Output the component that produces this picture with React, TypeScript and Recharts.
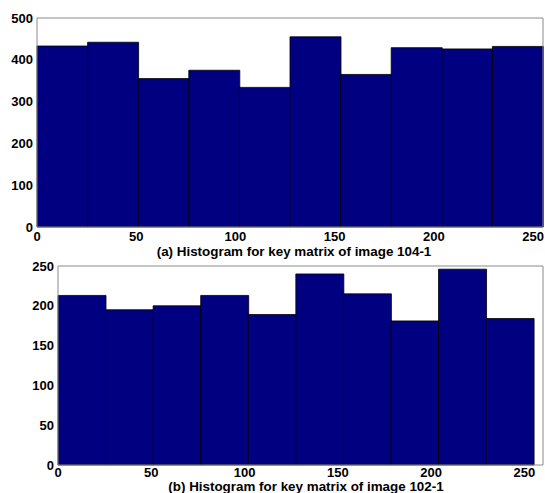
import React from 'react';
import { ComposedChart, Bar, XAxis, YAxis } from 'recharts';

// bin centres of the 10 histogram bins over 0..255
const binCenters = [12.75, 38.25, 63.75, 89.25, 114.75, 140.25, 165.75, 191.25, 216.75, 242.25];
const countsA = [433, 442, 355, 375, 334, 455, 365, 429, 426, 432];
const countsB = [213, 195, 200, 213, 189, 240, 215, 181, 246, 184];

const xTicks = [0, 50, 100, 150, 200, 250];
const yTicksA = [0, 100, 200, 300, 400, 500];
const yTicksB = [0, 50, 100, 150, 200, 250];

const titleA = '(a) Histogram for key matrix of image 104-1';
const titleB = '(b) Histogram for key matrix of image 102-1';

const FONT = '"Liberation Sans", Arial, sans-serif';
const BAR = '#000080';
const BOX = '#8a8a8a';
const tickStyle = { fontSize: 13, fontWeight: 'bold', fill: '#000', fontFamily: FONT };

function Histogram({ counts, xMax, yMax, yTicks, yWidth, height, xMargin }: {
  counts: number[]; xMax: number; yMax: number; yTicks: number[]; yWidth: number; height: number; xMargin: number;
}) {
  const data = binCenters.map((x, i) => ({ x, count: counts[i] }));
  return (
    <ComposedChart width={545} height={height} data={data} barCategoryGap={0} barGap={0}
      margin={{ top: 18, right: 2, bottom: 0, left: 0 }}>
      <XAxis xAxisId="b" dataKey="x" type="number" domain={[0, xMax]} ticks={xTicks} height={30}
        tick={tickStyle} tickSize={0} tickMargin={xMargin} axisLine={{ stroke: BOX }} interval={0} />
      <XAxis xAxisId="t" orientation="top" dataKey="x" type="number" domain={[0, xMax]} ticks={xTicks}
        mirror tick={false} tickSize={5} tickLine={{ stroke: '#666' }} axisLine={{ stroke: BOX }} />
      <YAxis yAxisId="l" type="number" domain={[0, yMax]} ticks={yTicks} width={yWidth}
        tick={tickStyle} tickSize={0} tickMargin={4} axisLine={{ stroke: BOX }} interval={0} />
      <YAxis yAxisId="r" orientation="right" type="number" domain={[0, yMax]} ticks={yTicks}
        mirror tick={false} tickSize={5} tickLine={{ stroke: '#666' }} axisLine={{ stroke: BOX }} />
      <Bar xAxisId="b" yAxisId="l" dataKey="count" fill={BAR} stroke="#000" strokeWidth={0.8}
        isAnimationActive={false} />
    </ComposedChart>
  );
}

const titleStyle: React.CSSProperties = {
  position: 'absolute', fontFamily: FONT, fontWeight: 'bold', fontSize: 13.4, lineHeight: 1,
  whiteSpace: 'nowrap', transform: 'translate(-50%, -50%)', color: '#000',
};

export default function App() {
  return (
    <div style={{ position: 'absolute', left: 0, top: 0, width: 545, height: 493, overflow: 'hidden', background: '#fff' }}>
      <div style={{ position: 'absolute', left: 0, top: 0 }}>
        <Histogram counts={countsA} xMax={255} yMax={500} yTicks={yTicksA} yWidth={37} height={257} xMargin={5} />
      </div>
      <div style={{ position: 'absolute', left: 0, top: 248 }}>
        <Histogram counts={countsB} xMax={260} yMax={250} yTicks={yTicksB} yWidth={58} height={247} xMargin={3} />
      </div>
      <div style={{ ...titleStyle, left: 294, top: 251.5 }}>{titleA}</div>
      <div style={{ ...titleStyle, left: 306, top: 486.5 }}>{titleB}</div>
    </div>
  );
}
